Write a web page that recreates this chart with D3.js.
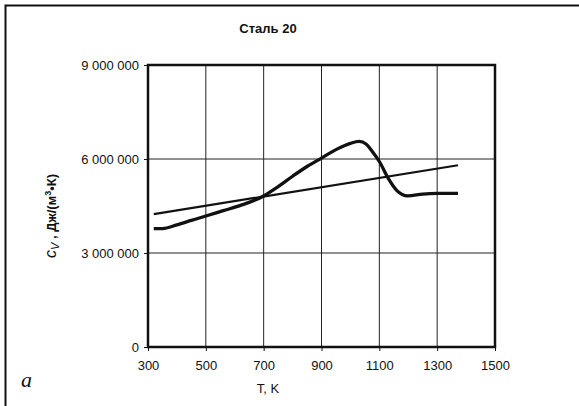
<!DOCTYPE html>
<meta charset="utf-8">
<style>
body { margin: 0; background: #fff; }
text { font-family: "Liberation Sans", Arial, sans-serif; fill: #111; }
.grid line { stroke: #222; stroke-width: 1; }
.axis path, .axis line { stroke: #111; }
.axis text { font-size: 13px; }
</style>
<body>
<script src="https://cdn.jsdelivr.net/npm/d3@7"></script>
<script>

var width = 579,
    height = 406;

// thick curve: cv of steel 20 (with the phase-transition peak)
var tempMain = [320, 350, 400, 450, 500, 560, 620, 700, 750, 800, 850, 900, 950, 1000, 1030, 1055, 1075, 1100, 1133, 1160, 1198, 1250, 1300, 1372];
var cvMain   = [3.78e6, 3.78e6, 3.9e6, 4.04e6, 4.18e6, 4.35e6, 4.52e6, 4.82e6, 5.12e6, 5.45e6, 5.76e6, 6.03e6, 6.3e6, 6.5e6, 6.56e6, 6.47e6, 6.25e6, 5.92e6, 5.35e6, 5.0e6, 4.82e6, 4.88e6, 4.9e6, 4.9e6];

// thin straight line
var tempLin = [320, 1372];
var cvLin   = [4.24e6, 5.8e6];

var xTicks = [300, 500, 700, 900, 1100, 1300, 1500];
var yTicks = [0, 3e6, 6e6, 9e6];

var margin = {left: 148, right: 84, top: 65, bottom: 59};

var x = d3.scaleLinear()
    .domain([300, 1500])
    .range([margin.left, width - margin.right]);

var y = d3.scaleLinear()
    .domain([0, 9e6])
    .range([height - margin.bottom, margin.top]);

var fmt = function(d) { return d3.format(",")(d).replace(/,/g, " "); };

var svg = d3.select("body").append("svg")
    .attr("width", width)
    .attr("height", height);

// outer frame (left and top only)
svg.append("path")
    .attr("d", "M5.5," + (height) + "V5.5H" + width)
    .attr("fill", "none")
    .attr("stroke", "#111")
    .attr("stroke-width", 2);

// grid
var grid = svg.append("g").attr("class", "grid");
grid.selectAll(".v").data(xTicks.slice(1, -1)).enter().append("line")
    .attr("x1", function(d) { return x(d); })
    .attr("x2", function(d) { return x(d); })
    .attr("y1", y(0))
    .attr("y2", y(9e6));
grid.selectAll(".h").data(yTicks.slice(1, -1)).enter().append("line")
    .attr("x1", x(300))
    .attr("x2", x(1500))
    .attr("y1", function(d) { return y(d); })
    .attr("y2", function(d) { return y(d); });

// plot frame
svg.append("rect")
    .attr("x", x(300))
    .attr("y", y(9e6))
    .attr("width", x(1500) - x(300))
    .attr("height", y(0) - y(9e6))
    .attr("fill", "none")
    .attr("stroke", "#111")
    .attr("stroke-width", 2.5);

// axes
svg.append("g")
    .attr("class", "axis")
    .attr("transform", "translate(0," + y(0) + ")")
    .call(d3.axisBottom(x).tickValues(xTicks).tickFormat(d3.format("d")).tickSize(4).tickPadding(10))
    .call(function(g) { g.select(".domain").remove(); });

svg.append("g")
    .attr("class", "axis")
    .attr("transform", "translate(" + x(300) + ",0)")
    .call(d3.axisLeft(y).tickValues(yTicks).tickFormat(fmt).tickSize(4).tickPadding(5))
    .call(function(g) { g.select(".domain").remove(); });

// lines
var line = d3.line().curve(d3.curveMonotoneX);

svg.append("path")
    .datum(d3.zip(tempLin, cvLin))
    .attr("fill", "none")
    .attr("stroke", "#111")
    .attr("stroke-width", 2.2)
    .attr("d", line.x(function(d) { return x(d[0]); }).y(function(d) { return y(d[1]); }));

svg.append("path")
    .datum(d3.zip(tempMain, cvMain))
    .attr("fill", "none")
    .attr("stroke", "#111")
    .attr("stroke-width", 3.3)
    .attr("stroke-linejoin", "round")
    .attr("d", line);

// title
svg.append("text")
    .attr("x", 268)
    .attr("y", 33)
    .attr("text-anchor", "middle")
    .style("font-size", "13px")
    .style("font-weight", "bold")
    .text("Сталь 20");

// axis titles
svg.append("text")
    .attr("x", 268)
    .attr("y", 393)
    .attr("text-anchor", "middle")
    .style("font-size", "13px")
    .text("T, K");

var yl = svg.append("text")
    .attr("transform", "translate(56,216) rotate(-90)")
    .attr("text-anchor", "middle")
    .style("font-size", "13px")
    .style("font-weight", "bold");
yl.append("tspan").style("font-style", "italic").style("font-size", "16px").style("font-weight", "normal").text("c");
yl.append("tspan").attr("dy", 3).style("font-style", "italic").style("font-size", "11px").style("font-weight", "normal").text("V");
yl.append("tspan").attr("dy", -3).text(" , Дж/(м");
yl.append("tspan").attr("dy", -5).style("font-size", "9px").text("3");
yl.append("tspan").attr("dy", 5).text("•К)");

// panel letter
svg.append("text")
    .attr("x", 21)
    .attr("y", 387)
    .style("font-family", "'Liberation Serif', serif")
    .style("font-style", "italic")
    .style("font-size", "22px")
    .text("a");

</script>
